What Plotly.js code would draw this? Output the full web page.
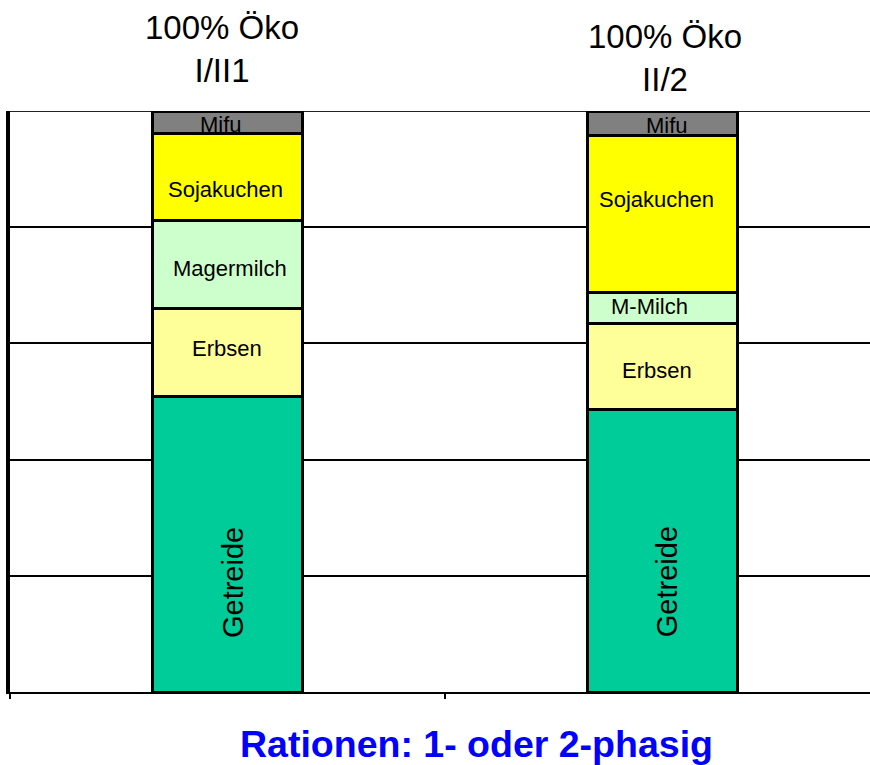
<!DOCTYPE html>
<html>
<head>
<meta charset="utf-8">
<script src="https://cdn.plot.ly/plotly-3.0.1.min.js"></script>
<style>html,body{margin:0;padding:0;background:#fff;}#chart{width:870px;height:765px;}</style>
</head>
<body>
<div id="chart"></div>
<script>
// Data
const categories = ["100% Öko<br>I/II1", "100% Öko<br>II/2"];
const getreide = [50.9, 48.7];
const erbsen = [15.1, 14.8];
const magermilch = [15.1, 5.2];
const sojakuchen = [15.0, 27.0];
const mifu = [3.8, 4.3];
const labelsGetreide = ["Getreide", "Getreide"];
const labelsErbsen = ["Erbsen", "Erbsen"];
const labelsMilch = ["Magermilch", "M-Milch"];
const labelsSoja = ["Sojakuchen", "Sojakuchen"];
const labelsMifu = ["Mifu", "Mifu"];
const chartTitle = "Rationen: 1- oder 2-phasig";

const FONT = "Liberation Sans, Arial, sans-serif";
const xIdx = categories.map((c, i) => i);

// series definitions (style kept separately from data)
const series = [
  {name: "Getreide", vals: getreide, labels: labelsGetreide, color: "#00CC99", size: 29, angle: -90,
   nudge: [[5, -38.5], [5, -31.5]]},
  {name: "Erbsen", vals: erbsen, labels: labelsErbsen, color: "#FFFF99", size: 22, angle: 0,
   nudge: [[0, 4], [-5, -4]]},
  {name: "Magermilch", vals: magermilch, labels: labelsMilch, color: "#CCFFCC", size: 22, angle: 0,
   nudge: [[2.5, -4], [-13, 1]]},
  {name: "Sojakuchen", vals: sojakuchen, labels: labelsSoja, color: "#FFFF00", size: 22, angle: 0,
   nudge: [[-2, -12.5], [-6, 14.5]]},
  {name: "Mifu", vals: mifu, labels: labelsMifu, color: "#808080", size: 22, angle: 0,
   nudge: [[-6, -2], [5, -2]]}
];

const traces = series.map(s => ({
  type: "bar", name: s.name, x: xIdx, y: s.vals,
  marker: {color: s.color, line: {color: "#000", width: 3}},
  width: 0.345, hoverinfo: "skip"
}));

const labelAnns = [];
const base = xIdx.map(() => 0);
series.forEach(s => {
  xIdx.forEach(i => {
    const mid = base[i] + s.vals[i] / 2;
    labelAnns.push({
      text: s.labels[i], xref: "x", yref: "y", x: i, y: mid,
      xshift: s.nudge[i][0], yshift: s.nudge[i][1], textangle: s.angle,
      xanchor: "center", yanchor: "middle", showarrow: false,
      font: {family: FONT, size: s.size, color: "#000"}
    });
    base[i] += s.vals[i];
  });
});

const layout = {
  width: 870, height: 765,
  margin: {l: 10, r: 0, t: 111, b: 73},
  barmode: "stack", showlegend: false,
  paper_bgcolor: "#fff", plot_bgcolor: "#fff",
  font: {family: FONT, color: "#000"},
  xaxis: {
    range: [-0.5, 1.478], tickmode: "array", tickvals: [-0.5, 0.5, 1.5], ticktext: ["", "", ""],
    ticks: "outside", ticklen: 5, tickwidth: 2, tickcolor: "#000",
    showline: true, linecolor: "#000", linewidth: 2, showgrid: false, zeroline: false,
    fixedrange: true
  },
  yaxis: {
    range: [0, 100], dtick: 20, showticklabels: false, ticks: "",
    showgrid: true, gridcolor: "#000", gridwidth: 2,
    showline: true, linecolor: "#000", linewidth: 4, zeroline: false,
    fixedrange: true
  },
  shapes: [
    {type: "line", xref: "paper", yref: "y", x0: 0, x1: 1, y0: 100, y1: 100,
     line: {color: "#222", width: 2}, layer: "below"}
  ],
  annotations: labelAnns.concat([
    {text: categories[0], xref: "x", yref: "paper", x: 0, y: 1.1067, xshift: -5,
     xanchor: "center", yanchor: "middle", showarrow: false,
     font: {family: FONT, size: 33, color: "#000"}},
    {text: categories[1], xref: "x", yref: "paper", x: 1, y: 1.091, xshift: 3,
     xanchor: "center", yanchor: "middle", showarrow: false,
     font: {family: FONT, size: 33, color: "#000"}},
    {text: "<b>" + chartTitle + "</b>", xref: "paper", yref: "paper", x: 0.543, y: -0.0895,
     xanchor: "center", yanchor: "middle", showarrow: false,
     font: {family: FONT, size: 37.5, color: "#0000FF"}}
  ])
};

Plotly.newPlot("chart", traces, layout, {displayModeBar: false, staticPlot: true});
</script>
</body>
</html>
